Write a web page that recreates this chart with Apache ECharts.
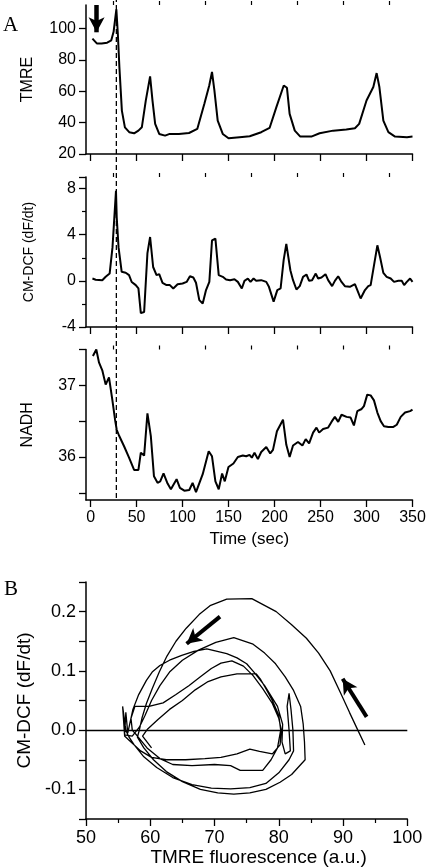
<!DOCTYPE html>
<html>
<head>
<meta charset="utf-8">
<script src="https://cdn.jsdelivr.net/npm/echarts@6/dist/echarts.min.js"></script>
<style>
html,body{margin:0;padding:0;background:#fff;}
#chart{width:427px;height:868px;}
</style>
</head>
<body>
<div id="chart"></div>
<script>
// ---------- Panel A data: [time (sec), value] ----------
const tmreData = [[2,93.6],[7,90.4],[12,90.4],[18,91],[22.5,92.5],[25,97.9],[28,112.2],[29.6,96.8],[31.3,75.5],[34,47.7],[37.3,37],[42,33.9],[47.3,33.2],[52,34.9],[55.7,37],[60,54],[64.7,69.5],[67.3,54],[70.2,39.2],[74.6,32.8],[81,31.7],[86,32.8],[96,32.8],[107,33.4],[116,36],[123.7,52],[129,63.7],[132,72.3],[134.6,60.5],[138.2,41.3],[143.7,32.8],[150,30],[162,30.7],[173,31.3],[185.5,33.9],[194.6,36.6],[202,49.9],[210,63.7],[213.5,62.2],[216.4,45.6],[222,34.9],[228,31.1],[240,31.1],[249,33.2],[263.7,34.9],[278,35.6],[287.4,36.4],[292,39.2],[300,54.1],[307.4,62.7],[311,71.6],[314,62.7],[318.3,41.3],[323.8,33.9],[331,31.1],[344,30.7],[350,31.1]];

const cmdcfData = [[2,0.2],[5.5,0.1],[12.7,0.05],[16.4,0.35],[20.7,0.63],[23.8,2.9],[27.6,7.8],[28.4,5.5],[30.4,2.9],[33.8,0.78],[38.2,0.7],[41.8,0.5],[44.7,-0.1],[49.1,-0.37],[52,-0.66],[54.6,-2.8],[58.2,-2.7],[61.8,2.4],[64.7,3.8],[68,1.2],[71.7,0.5],[74.6,0.58],[78.2,-0.17],[82.6,-0.37],[86.2,-0.37],[89.9,-0.66],[94.6,-0.29],[100,-0.23],[104.4,-0.09],[108,0.4],[111.7,0.29],[114.6,-0.17],[118.2,-1.67],[121.9,-1.96],[125.5,-0.8],[129.1,-0.09],[132,3.5],[135.7,3.66],[139.3,0.49],[143.7,0.35],[147.3,0.12],[151.7,0.06],[156.4,0.14],[160.1,-0.09],[164.4,-0.66],[167.3,0],[171,0.2],[173.9,-0.09],[177.2,0.2],[180,0],[185.5,0.06],[191,-0.09],[193.9,-0.52],[199,-1.8],[203,-0.8],[206.6,-0.66],[209.9,1.79],[212.8,3.2],[217.2,0.92],[220.1,0.06],[223.8,-0.75],[227.4,-0.46],[231,0.35],[234.7,0.55],[237.6,0],[240.8,0.06],[244.8,0.63],[247.4,0.2],[251,0.29],[255.4,0.58],[258.3,0.06],[262.6,-0.46],[265.6,0],[269.2,0.4],[272.8,-0.09],[276.5,-0.46],[281.9,-0.52],[287.4,-0.29],[290,-0.8],[293.6,-1.53],[298.3,-0.8],[301.9,-0.46],[304.5,-0.37],[311.8,3.08],[314.7,2.07],[318.3,0.69],[321.9,0.35],[326.3,0.2],[329.9,-0.09],[334.6,0],[338.3,0],[340.9,-0.37],[343.8,-0.09],[347.4,0.2],[350,-0.09]];

const nadhData = [[2.5,37.41],[6.2,37.5],[9.1,37.32],[12.7,37.21],[16.4,37.01],[20,37.11],[23.6,36.8],[26.6,36.52],[28.4,36.38],[30.9,36.3],[36.4,36.15],[41.8,35.99],[47.3,35.82],[52,35.82],[54.6,36.06],[58.2,36.02],[61.8,36.61],[65.5,36.29],[68.9,35.73],[72.8,35.64],[75.7,35.66],[79.3,35.77],[83.7,35.63],[87.3,35.55],[93.5,35.69],[97.1,35.57],[101.9,35.53],[107.3,35.54],[110.9,35.64],[114.6,35.51],[121.9,35.76],[128.4,36.08],[132,36.01],[135.7,35.66],[139.3,35.55],[143,35.77],[145.9,35.66],[149.9,35.86],[155.3,35.91],[160.1,36],[165.5,36.02],[169.2,36.01],[172.8,36.03],[175.3,35.99],[178.2,36.06],[181.9,35.97],[185.5,36.07],[191,36.14],[195.3,36.05],[198.3,36.1],[202.6,36.36],[209.2,36.52],[212.8,36.17],[216.4,36],[220.1,36.16],[225.5,36.21],[230.3,36.16],[233.9,36.25],[237.6,36.19],[241.9,36.34],[245.6,36.41],[248.5,36.34],[252.8,36.39],[258.3,36.41],[261.9,36.49],[265.6,36.56],[269.2,36.49],[272.8,36.59],[278.3,36.56],[282.7,36.55],[286.3,36.44],[290,36.64],[294.7,36.67],[297.2,36.71],[300.8,36.87],[304.5,36.86],[308.1,36.79],[311.8,36.62],[315.4,36.5],[319,36.43],[323.8,36.42],[329.2,36.42],[332.9,36.45],[337.2,36.56],[341.9,36.62],[347.4,36.64],[350,36.66]];

const timeMajorTicks = [0,50,100,150,200,250,300,350];
const timeMinorTicks = [25,75,125,175,225,275,325];
const nadhTicks = [35.5,36,36.5,37,37.5];
const nadhLabels = [36,37];
const markerTime = 28;           // dashed vertical line (sec)
const arrowA = [[6.5,115],[6.5,97.6]];

// ---------- Panel B data: [TMRE fluorescence, CM-DCF dF/dt] ----------
const phaseData = [
 [93.4,-0.025],[92.3,0.0],[91.0,0.03],[89.6,0.063],[88.0,0.1],[86.2,0.13],[84.3,0.155],[82.0,0.178],[79.6,0.2],[75.8,0.222],[71.9,0.221],[69.3,0.21],[67.6,0.195],[65.6,0.172],[64.0,0.15],[62.6,0.125],[61.4,0.098],[60.3,0.07],[59.4,0.045],[58.7,0.02],[58.3,0.0],[58.0,-0.012],
 [59.0,-0.03],[60.5,-0.05],[62.5,-0.07],[65.0,-0.087],[67.8,-0.1],[70.5,-0.106],[73.0,-0.108],[75.5,-0.106],[78.0,-0.1],[80.2,-0.088],[82.0,-0.075],[84.1,-0.05],
 [84.0,-0.02],[83.8,0.01],[83.4,0.04],[82.3,0.067],
 [81.0,0.09],[79.5,0.112],[77.8,0.13],[76.0,0.145],[73.0,0.156],[70.2,0.148],[67.5,0.135],[65.0,0.118],[63.0,0.098],[61.5,0.075],[60.2,0.05],[59.2,0.025],[58.3,0.005],[57.2,-0.01],
 [56.0,-0.008],[55.7,0.04],[56.2,0.0],[56.6,-0.01],
 [57.5,-0.025],[59.0,-0.045],[61.0,-0.063],[63.5,-0.08],[66.5,-0.092],[69.5,-0.098],[72.5,-0.099],[75.5,-0.097],[78.0,-0.09],[80.0,-0.072],[81.6,-0.05],[82.3,-0.035],[82.2,0.0],[81.9,0.035],[81.6,0.062],[81.3,0.04],[81.6,0.0],[81.8,-0.035],[81.0,-0.04],[80.5,-0.02],[80.6,0.01],[79.8,0.04],
 [77.8,0.075],[76.2,0.097],[75.0,0.112],[73.5,0.122],[71.9,0.129],[68.8,0.137],[66.8,0.133],[64.9,0.126],[63.0,0.118],[61.5,0.109],[60.3,0.098],[59.4,0.084],[58.2,0.06],[57.3,0.035],[56.8,0.01],[56.5,-0.005],
 [56.2,0.03],[56.0,-0.01],
 [57.0,-0.02],[58.5,-0.035],[60.2,-0.046],[62.5,-0.05],[65.5,-0.05],[68.5,-0.048],[71.0,-0.046],[73.5,-0.04],[75.5,-0.032],[77.0,-0.036],[79.0,-0.04],[80.2,-0.025],[80.4,0.0],[80.0,0.02],
 [79.0,0.045],[77.5,0.07],[76.0,0.092],[74.5,0.108],[72.7,0.117],[71.0,0.113],[69.5,0.104],[67.8,0.09],[66.0,0.075],[64.0,0.06],[62.0,0.046],[59.8,0.04],[57.6,0.04],[57.0,0.02],[57.2,0.0],[58.0,-0.01],
 [59.5,-0.03],[61.5,-0.048],[63.5,-0.058],[66.5,-0.06],[70.0,-0.058],[72.5,-0.06],[74.0,-0.068],[77.5,-0.068],[78.8,-0.05],[79.8,-0.03],[80.3,0.0],[80.0,0.025],
 [79.0,0.05],[78.0,0.07],[77.2,0.085],[76.5,0.095],[73.5,0.095],[71.0,0.09],[69.0,0.082],[67.0,0.068],[65.0,0.05],[63.0,0.035],[61.2,0.018],[59.6,0.002],[58.8,-0.01],[60.2,-0.03]
];
const phaseYTicks = [-0.15,-0.1,-0.05,0,0.05,0.1,0.15,0.2,0.25];
const phaseYLabels = [-0.1,0,0.1,0.2];
const arrowsB = [
  [[70.85,0.1916],[65.66,0.1457]],
  [[93.67,0.0224],[89.94,0.0868]]
];

// ---------- chart ----------
const BLACK = '#000';
const SANS = '"Liberation Sans", Arial, sans-serif';
const chart = echarts.init(document.getElementById('chart'), null, {renderer:'canvas'});

const gridA = {left:86, width:326.5};
const grids = [
  {left:gridA.left, width:gridA.width, top:5, height:149, outerBoundsMode:'none'},
  {left:gridA.left, width:gridA.width, top:177, height:150, outerBoundsMode:'none'},
  {left:gridA.left, width:gridA.width, top:349.5, height:150.5, outerBoundsMode:'none'},
  {left:86, width:321.3, top:582, height:237, outerBoundsMode:'none'},
  {left:gridA.left, width:gridA.width, top:0, height:498, outerBoundsMode:'none'}
];

function axLine(w){ return {show:true, onZero:false, lineStyle:{color:BLACK, width:w}}; }

function timeAxis(gi, withLabels){
  const major = {
    type:'value', gridIndex:gi, min:-5, max:350,
    axisLine:axLine(1.5),
    axisTick:{show:true, inside:false, length:7, customValues:timeMajorTicks, lineStyle:{color:BLACK, width:1.3}},
    axisLabel:withLabels ? {show:true, customValues:timeMajorTicks, color:BLACK, fontFamily:SANS, fontSize:16, margin:10} : {show:false},
    splitLine:{show:false}
  };
  if (withLabels) {
    major.name = 'Time (sec)';
    major.nameLocation = 'middle';
    major.nameGap = 31;
    major.nameTextStyle = {color:BLACK, fontFamily:SANS, fontSize:17};
  }
  const minor = {
    type:'value', gridIndex:gi, min:-5, max:350,
    axisLine:{show:false, onZero:false},
    axisTick:{show:true, inside:false, length:4, customValues:timeMinorTicks, lineStyle:{color:BLACK, width:1.2}},
    axisLabel:{show:false}, splitLine:{show:false}
  };
  return [major, minor];
}

const xAxes = [].concat(
  timeAxis(0,false),   // 0,1
  timeAxis(1,false),   // 2,3
  timeAxis(2,true),    // 4,5
  [{ // 6 : panel B
    type:'value', gridIndex:3, min:50, max:100, interval:10,
    axisLine:axLine(1.5),
    axisTick:{show:true, inside:false, length:7, lineStyle:{color:BLACK, width:1.3}},
    minorTick:{show:true, splitNumber:2, length:4, lineStyle:{color:BLACK, width:1.2}},
    axisLabel:{color:BLACK, fontFamily:SANS, fontSize:18, margin:10},
    splitLine:{show:false},
    name:'TMRE fluorescence (a.u.)', nameLocation:'middle', nameGap:29,
    nameTextStyle:{color:BLACK, fontFamily:SANS, fontSize:19, padding:[0,0,0,24]}
  },
  { // 7 : overlay for dashed line
    type:'value', gridIndex:4, min:-5, max:350, show:false
  }]
);

const yName = (txt, size, gap) => ({name:txt, nameLocation:'middle', nameGap:gap,
  nameTextStyle:{color:BLACK, fontFamily:SANS, fontSize:size}});

const yAxes = [
  Object.assign({ type:'value', gridIndex:0, min:20, max:115, interval:20,
    axisLine:axLine(1.5),
    axisTick:{show:true, inside:false, length:7, lineStyle:{color:BLACK, width:1.3}},
    axisLabel:{color:BLACK, fontFamily:SANS, fontSize:16, margin:10, showMaxLabel:false},
    splitLine:{show:false}}, yName('TMRE',16,50)),
  Object.assign({ type:'value', gridIndex:1, min:-4, max:9, interval:4,
    axisLine:axLine(1.5),
    axisTick:{show:true, inside:false, length:7, lineStyle:{color:BLACK, width:1.3}},
    minorTick:{show:true, splitNumber:2, length:4, lineStyle:{color:BLACK, width:1.2}},
    axisLabel:{color:BLACK, fontFamily:SANS, fontSize:16, margin:10, showMaxLabel:false},
    splitLine:{show:false}}, yName('CM-DCF (dF/dt)',14,50)),
  Object.assign({ type:'value', gridIndex:2, min:35.4, max:37.5,
    axisLine:axLine(1.5),
    axisTick:{show:true, inside:false, length:7, customValues:nadhTicks, lineStyle:{color:BLACK, width:1.3}},
    axisLabel:{color:BLACK, fontFamily:SANS, fontSize:16, margin:10, customValues:nadhLabels},
    splitLine:{show:false}}, yName('NADH',16,50)),
  Object.assign({ type:'value', gridIndex:3, min:-0.15, max:0.25,
    axisLine:axLine(1.5),
    axisTick:{show:true, inside:false, length:7, customValues:phaseYTicks, lineStyle:{color:BLACK, width:1.3}},
    axisLabel:{color:BLACK, fontFamily:SANS, fontSize:18, margin:10, customValues:phaseYLabels,
      formatter:v => v.toFixed(1)},
    splitLine:{show:false}}, yName('CM-DCF (dF/dt)',19,51)),
  { type:'value', gridIndex:4, min:0, max:1, show:false }
];

function arrowMark(pairs, w){
  return {
    silent:true, symbol:['none','arrow'], symbolSize:[12,15],
    label:{show:false},
    lineStyle:{color:BLACK, width:w, type:'solid'},
    data: pairs.map(p => [{coord:p[0]},{coord:p[1]}])
  };
}

const option = {
  animation:false,
  backgroundColor:'#fff',
  grid:grids,
  xAxis:xAxes,
  yAxis:yAxes,
  graphic:[
    {type:'text', left:3, top:15, style:{text:'A', font:'21px "Liberation Serif", "Times New Roman", serif', fill:BLACK}},
    {type:'text', left:4, top:579, style:{text:'B', font:'21px "Liberation Serif", "Times New Roman", serif', fill:BLACK}}
  ],
  series:[
    {type:'line', xAxisIndex:0, yAxisIndex:0, data:tmreData, showSymbol:false, smooth:false,
      lineStyle:{color:BLACK, width:2}, markLine:arrowMark([arrowA],4.5)},
    {type:'line', xAxisIndex:2, yAxisIndex:1, data:cmdcfData, showSymbol:false,
      lineStyle:{color:BLACK, width:2}},
    {type:'line', xAxisIndex:4, yAxisIndex:2, data:nadhData, showSymbol:false,
      lineStyle:{color:BLACK, width:2}},
    {type:'line', xAxisIndex:6, yAxisIndex:3, data:phaseData, showSymbol:false,
      lineStyle:{color:BLACK, width:1.3},
      markLine:{silent:true, symbol:['none','none'], label:{show:false},
        lineStyle:{color:BLACK, width:1.3, type:'solid'}, data:[{yAxis:0}]}},
    {type:'line', xAxisIndex:6, yAxisIndex:3, data:[], showSymbol:false,
      markLine:arrowMark(arrowsB,4)},
    {type:'line', xAxisIndex:7, yAxisIndex:4, data:[[markerTime,0],[markerTime,1]], showSymbol:false,
      lineStyle:{color:BLACK, width:1.3, type:[5,3]}}
  ]
};
chart.setOption(option);
</script>
</body>
</html>
